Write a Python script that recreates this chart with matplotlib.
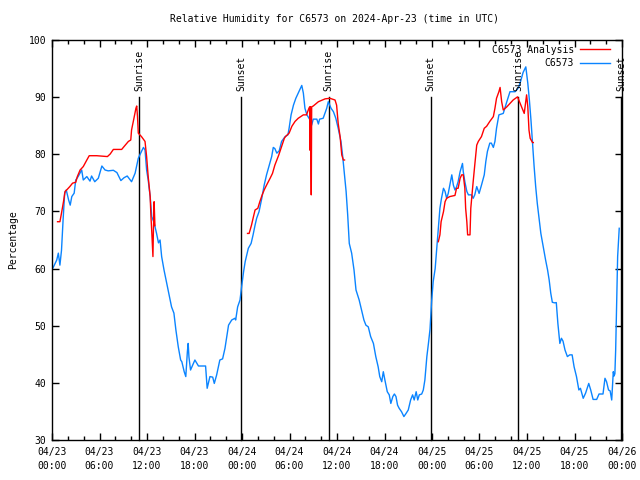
import matplotlib
matplotlib.use("Agg")
import matplotlib.pyplot as plt
from matplotlib.ticker import MultipleLocator, FixedLocator
import numpy as np

# ---------------- data ----------------
title = "Relative Humidity for C6573 on 2024-Apr-23 (time in UTC)"
ylabel = "Percentage"
series_names = ["C6573 Analysis", "C6573"]

xtick_hours = [0, 6, 12, 18, 24, 30, 36, 42, 48, 54, 60, 66, 72]
xtick_labels = ["04/23\n00:00", "04/23\n06:00", "04/23\n12:00", "04/23\n18:00",
                "04/24\n00:00", "04/24\n06:00", "04/24\n12:00", "04/24\n18:00",
                "04/25\n00:00", "04/25\n06:00", "04/25\n12:00", "04/25\n18:00",
                "04/26\n00:00"]

sun_hours = [11.0, 23.87, 34.97, 47.85, 58.9, 71.9]
sun_labels = ["Sunrise", "Sunset", "Sunrise", "Sunset", "Sunrise", "Sunset"]

obs_hours = [0.0, 0.1, 0.6, 0.8, 1.0, 1.2, 1.4, 1.6, 1.8, 2.1, 2.3, 2.5, 2.8, 3.0, 3.3,
             3.75, 3.95, 4.4, 4.8, 5.0, 5.4, 5.85, 6.3, 6.7, 7.1, 7.75, 8.2, 8.7, 9.1,
             9.5, 10.05, 10.5, 10.9, 11.2, 11.55, 11.75, 11.95, 12.15, 12.4, 12.6, 12.9,
             13.2, 13.45, 13.65, 13.85, 14.15, 14.5, 14.8, 15.1, 15.4, 15.65, 15.95,
             16.25, 16.4, 16.7, 16.9, 17.1, 17.2, 17.3, 17.5, 17.7, 18.05, 18.5, 19.4,
             19.6, 19.95, 20.3, 20.5, 20.8, 21.2, 21.55, 21.85, 22.3, 22.7, 23.1, 23.2,
             23.45, 23.75, 23.95, 24.2, 24.4, 24.6, 24.8, 25.15, 25.4, 25.65, 25.85,
             26.15, 26.5, 26.8, 27.1, 27.45, 27.75, 27.95, 28.15, 28.4, 28.7, 29.0,
             29.45, 29.8, 29.95, 30.2, 30.5, 30.8, 31.1, 31.55, 31.75, 31.95, 32.2,
             32.6, 32.8, 33.0, 33.45, 33.65, 33.8, 34.25, 34.7, 34.9, 35.25, 35.55,
             35.85, 36.15, 36.5, 36.7, 36.9, 37.15, 37.35, 37.55, 37.85, 38.15, 38.4,
             38.8, 39.1, 39.4, 39.65, 39.95, 40.25, 40.6, 40.9, 41.2, 41.4, 41.65,
             41.85, 42.05, 42.35, 42.6, 42.8, 43.05, 43.25, 43.45, 43.65, 43.85, 44.15,
             44.45, 44.7, 45.0, 45.3, 45.55, 45.75, 46.0, 46.2, 46.4, 46.7, 46.9, 47.1,
             47.35, 47.55, 47.75, 47.95, 48.15, 48.4, 48.6, 48.8, 49.0, 49.2, 49.45,
             49.65, 49.85, 50.05, 50.25, 50.5, 50.7, 50.9, 51.1, 51.3, 51.55, 51.85,
             51.95, 52.15, 52.4, 52.6, 53.0, 53.2, 53.4, 53.65, 53.95, 54.25, 54.6,
             54.8, 55.0, 55.3, 55.5, 55.75, 55.95, 56.15, 56.45, 57.0, 57.45, 57.85,
             58.5, 58.9, 59.2, 59.5, 59.85, 60.1, 60.3, 60.5, 60.7, 60.9, 61.1, 61.3,
             61.5, 61.75, 62.05, 62.35, 62.6, 62.8, 63.0, 63.2, 63.5, 63.7, 63.9, 64.15,
             64.35, 64.55, 64.8, 65.1, 65.4, 65.7, 65.95, 66.25, 66.55, 66.75, 67.1,
             67.4, 67.8, 68.05, 68.35, 68.8, 69.1, 69.6, 69.85, 70.05, 70.3, 70.5, 70.7,
             70.9, 71.0, 71.1, 71.2, 71.35, 71.45, 71.65]
obs_values = [60.0, 60.05, 61.5, 62.7, 60.6, 63.2, 68.5, 73.2, 73.75, 72.0, 71.1, 72.6,
              73.2, 75.5, 76.1, 77.25, 75.5, 76.1, 75.3, 76.2, 75.2, 75.8, 77.95, 77.25,
              77.1, 77.2, 76.8, 75.4, 75.9, 76.2, 75.2, 76.7, 79.3, 80.2, 81.2, 80.75,
              77.25, 75.5, 72.6, 69.1, 68.0, 66.2, 64.5, 65.0, 62.1, 59.75, 57.4, 55.4,
              53.3, 52.2, 49.25, 46.3, 44.0, 43.7, 41.95, 41.1, 45.45, 46.9, 44.5, 42.25,
              42.9, 44.0, 42.95, 42.95, 39.05, 41.1, 41.0, 39.9, 41.4, 44.0, 44.2, 46.05,
              50.1, 51.0, 51.3, 51.0, 53.3, 54.5, 56.8, 59.45, 61.2, 62.4, 63.55, 64.4,
              65.9, 67.6, 68.8, 69.95, 72.3, 74.6, 76.4, 78.1, 79.6, 81.2, 81.0, 80.2,
              80.6, 82.25, 83.1, 83.4, 84.55, 86.9, 88.6, 89.8, 90.7, 92.05, 90.7, 88.05,
              86.9, 86.0, 85.1, 86.15, 86.15, 85.3, 86.15, 86.3, 88.05, 89.2, 88.05,
              87.45, 86.3, 84.55, 82.25, 79.9, 77.0, 73.5, 69.4, 64.4, 62.7, 59.75, 56.25,
              54.5, 52.75, 51.0, 50.1, 49.8, 48.1, 46.9, 44.6, 42.8, 41.1, 40.2, 41.95,
              40.5, 38.45, 37.9, 36.4, 37.6, 38.05, 37.6, 36.1, 35.55, 34.95, 34.1, 34.6,
              35.25, 37.0, 37.9, 37.0, 38.45, 37.0, 37.9, 38.05, 38.75, 40.5, 44.6, 46.9,
              49.4, 54.2, 57.7, 60.0, 63.55, 67.05, 70.55, 72.3, 74.05, 73.5, 72.3, 73.15,
              74.6, 76.4, 74.6, 73.75, 74.3, 75.2, 76.95, 78.4, 76.95, 75.2, 73.5, 72.9,
              72.9, 72.3, 72.9, 74.35, 73.15, 74.6, 76.4, 78.75, 80.5, 81.95, 81.95, 81.2,
              82.25, 84.55, 86.9, 87.15, 89.2, 90.95, 90.95, 91.6, 92.8, 94.3, 95.3, 92.45,
              89.5, 86.0, 81.9, 77.85, 74.3, 71.4, 69.1, 66.15, 63.85, 61.5, 59.75, 58.0,
              55.7, 54.1, 54.0, 54.05, 50.4, 46.9, 47.8, 47.3, 45.75, 44.6, 44.9, 44.9,
              42.8, 41.1, 38.75, 39.05, 37.3, 38.2, 39.9, 38.75, 37.1, 37.1, 38.05, 38.05,
              40.8, 40.2, 38.75, 38.6, 37.0, 41.95, 41.2, 41.6, 45.75, 55.7, 62.1, 67.05]

ana1_hours = [0.7, 1.0, 1.2, 1.45, 1.65, 1.85, 2.25, 2.6, 3.0, 3.2, 3.55, 3.95, 4.4, 4.7,
              5.65, 7.0, 7.35, 7.75, 8.8, 9.1, 9.65, 9.95, 10.05, 10.35, 10.6, 10.7, 10.8,
              10.9, 11.3, 11.75, 11.95, 12.15, 12.4, 12.5, 12.6, 12.75, 12.8, 12.9, 13.0]
ana1_values = [68.2, 68.2, 69.7, 71.7, 73.5, 73.75, 74.35, 74.95, 75.1, 76.1, 77.25, 77.85,
               79.0, 79.75, 79.75, 79.6, 80.05, 80.85, 80.85, 81.35, 82.25, 82.5, 84.25,
               86.3, 88.05, 88.45, 86.6, 83.7, 83.1, 82.25, 79.6, 76.1, 72.6, 69.1, 66.5,
               62.1, 66.0, 71.7, 67.5]

ana2_hours = [24.7, 24.9, 25.2, 25.45, 25.65, 26.0, 26.25, 26.55, 26.8, 27.1, 27.55, 27.85,
              28.15, 28.4, 28.65, 29.0, 29.35, 29.5, 29.95, 30.3, 30.7, 31.1, 31.75, 32.15,
              32.45, 32.55, 32.6, 32.65, 32.75, 32.8, 33.0, 33.65, 34.5, 35.1, 35.75,
              35.95, 36.15, 36.4, 36.6, 36.8, 36.95]
ana2_values = [66.15, 66.15, 67.6, 69.1, 70.25, 70.55, 71.7, 72.9, 73.75, 74.6, 75.8,
               76.65, 78.1, 79.0, 79.9, 81.35, 82.8, 83.1, 83.7, 84.9, 85.75, 86.3, 86.9,
               86.9, 88.05, 88.3, 80.7, 88.3, 72.9, 88.3, 88.45, 89.2, 89.7, 89.8, 89.5,
               88.6, 85.4, 83.0, 79.9, 79.0, 79.0]

ana3_hours = [48.8, 49.0, 49.15, 49.45, 49.65, 49.85, 50.25, 50.9, 51.1, 51.3, 51.55,
              51.75, 51.95, 52.15, 52.25, 52.4, 52.5, 52.8, 52.9, 53.2, 53.4, 53.65, 53.85,
              54.25, 54.6, 54.9, 55.3, 55.75, 55.95, 56.15, 56.45, 56.6, 56.8, 57.0, 57.45,
              57.85, 58.25, 58.8, 59.3, 59.65, 59.95, 60.1, 60.25, 60.4, 60.7, 60.8]
ana3_values = [64.7, 65.9, 68.2, 69.95, 71.7, 72.3, 72.6, 72.8, 74.05, 74.05, 75.8, 76.4,
               76.4, 74.05, 70.55, 68.2, 65.9, 65.9, 70.55, 75.2, 78.1, 81.6, 82.25, 83.1,
               84.55, 84.9, 85.75, 86.6, 88.05, 89.8, 90.95, 91.7, 89.2, 87.75, 88.3, 88.9,
               89.5, 90.05, 88.35, 87.15, 90.4, 88.35, 84.25, 82.8, 82.05, 82.05]

# ---------------- plot ----------------
FONT = "DejaVu Sans Mono"
FS = 7
plt.rcParams["font.family"] = FONT
plt.rcParams["font.size"] = FS

RED = "#ff0000"
BLUE = "#0a84ff"

fig = plt.figure(figsize=(6.4, 4.8), dpi=100)
ax = fig.add_axes([52 / 640, 40 / 480, 570 / 640, 400 / 480])

ax.set_xlim(0, 72)
ax.set_ylim(30, 100)

for h, lab in zip(sun_hours, sun_labels):
    ax.plot([h, h], [30, 90], color="black", lw=1.0, zorder=1, clip_on=False)
    ax.text(h, 91, lab, rotation=90, ha="center", va="bottom", fontsize=FS,
            clip_on=False)

ana_segments = [(ana1_hours, ana1_values), (ana2_hours, ana2_values),
                (ana3_hours, ana3_values)]
for i, (hh, vv) in enumerate(ana_segments):
    ax.plot(hh, vv, color=RED, lw=1.0, zorder=3,
            label=series_names[0] if i == 0 else None)
ax.plot(obs_hours, obs_values, color=BLUE, lw=1.0, zorder=2, label=series_names[1])

ax.xaxis.set_major_locator(FixedLocator(xtick_hours))
ax.set_xticklabels(xtick_labels, linespacing=1.45)
ax.xaxis.set_minor_locator(MultipleLocator(2))
ax.yaxis.set_major_locator(MultipleLocator(10))

ax.tick_params(which="both", direction="in", top=True, right=True, width=1.0)
ax.tick_params(which="major", length=5, labelsize=FS)
ax.tick_params(axis="x", which="major", pad=5)
ax.tick_params(axis="y", which="major", pad=4)
ax.tick_params(which="minor", length=3)
for s in ax.spines.values():
    s.set_linewidth(1.0)

ax.set_ylabel(ylabel, fontsize=FS, labelpad=8)
fig.text(335 / 640, 1 - 19 / 480, title, ha="center", va="center", fontsize=FS)

leg = ax.legend(loc="upper right", bbox_to_anchor=(0.979, 0.988), frameon=False,
                markerfirst=False, handlelength=3.1, handletextpad=0.6,
                labelspacing=0.35, borderpad=0, borderaxespad=0, fontsize=FS)

fig.savefig("out.png", dpi=100)
